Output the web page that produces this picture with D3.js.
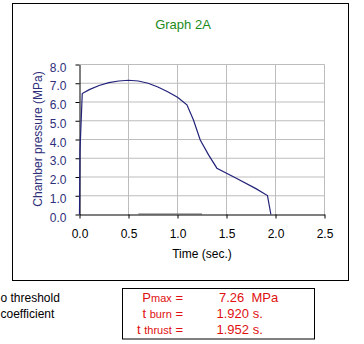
<!DOCTYPE html>
<html><head><meta charset="utf-8">
<script src="https://cdn.jsdelivr.net/npm/d3@7"></script>
<style>
html,body{margin:0;padding:0;background:#fff;}
svg{display:block;font-family:"Liberation Sans",Arial,sans-serif;}
</style></head>
<body>
<svg id="c" width="364" height="344"></svg>
<script>
// ---- data ----
const title = "Graph 2A";
const xLabel = "Time (sec.)";
const yLabel = "Chamber pressure (MPa)";
const xTicks = [0, 0.5, 1.0, 1.5, 2.0, 2.5];
const yTicks = [0, 1, 2, 3, 4, 5, 6, 7, 8];
const time = [0, 0.005, 0.028, 0.1, 0.2, 0.3, 0.4, 0.5, 0.6, 0.7, 0.8, 0.9, 1.0, 1.096, 1.163, 1.232, 1.317, 1.402, 1.6, 1.8, 1.918, 1.953];
const pressure = [0, 3.4, 6.45, 6.66, 6.88, 7.03, 7.12, 7.16, 7.12, 7.0, 6.8, 6.55, 6.25, 5.85, 5.04, 3.97, 3.18, 2.47, 1.93, 1.38, 1.01, 0];
const tailTime = [0.6, 1.25];
const tailPressure = [0.02, 0.02];
const summaryLabels = [["P", "max", " ="], ["t ", "burn", " ="], ["t ", "thrust", " ="]];
const summaryValues = ["7.26  MPa", "1.920 s.", "1.952 s."];
const leftNotes = ["o threshold", "coefficient"];

const svg = d3.select("#c");
// outer frame
svg.append("rect").attr("x", 12.5).attr("y", 3.5).attr("width", 336).attr("height", 277)
  .attr("fill", "#fff").attr("stroke", "#000").attr("stroke-width", 1);

const x = d3.scaleLinear().domain([0, 2.5]).range([79.5, 324.5]);
const y = d3.scaleLinear().domain([0, 8]).range([214.5, 64.5]);

// gridlines
const g = svg.append("g");
g.selectAll(".hg").data(yTicks.slice(1)).join("line")
  .attr("x1", x(0)).attr("x2", x(2.5)).attr("y1", d => y(d)).attr("y2", d => y(d))
  .attr("stroke", "#bdbdbd").attr("stroke-width", 1);
g.selectAll(".vg").data(xTicks.slice(1)).join("line")
  .attr("y1", y(0)).attr("y2", y(8)).attr("x1", d => x(d)).attr("x2", d => x(d))
  .attr("stroke", "#bdbdbd").attr("stroke-width", 1);

// axes
const xa = svg.append("g").attr("transform", `translate(0,${y(0)})`)
  .call(d3.axisBottom(x).tickValues(xTicks).tickFormat(d3.format(".1f")).tickSize(4).tickSizeOuter(0));
const ya = svg.append("g").attr("transform", `translate(${x(0)},0)`)
  .call(d3.axisLeft(y).tickValues(yTicks).tickFormat(d3.format(".1f")).tickSize(4).tickSizeOuter(0));
[xa, ya].forEach(a => {
  a.select(".domain").attr("stroke", "#000");
  a.selectAll(".tick line").attr("stroke", "#000");
  a.selectAll("text").attr("font-family", "Liberation Sans, Arial, sans-serif").attr("font-size", 12);
});
xa.selectAll("text").attr("fill", "#000").attr("dy", null).attr("y", 0).attr("transform", "translate(0,23.5)");
ya.selectAll("text").attr("fill", "#2e2e7a").attr("dy", null).attr("x", -13).attr("y", 6.5);

// series
const line = d3.line().x(d => x(d[0])).y(d => y(d[1]));
svg.append("path").datum(tailTime.map((t, i) => [t, tailPressure[i]]))
  .attr("d", line).attr("fill", "none").attr("stroke", "#666").attr("stroke-width", 1.5);
svg.append("path").datum(time.map((t, i) => [t, pressure[i]]))
  .attr("d", line).attr("fill", "none").attr("stroke", "#22227a").attr("stroke-width", 1.2);

// titles
svg.append("text").attr("x", 183).attr("y", 29).attr("text-anchor", "middle")
  .attr("font-size", 13).attr("fill", "#1b8a1b").text(title);
svg.append("text").attr("x", 202).attr("y", 258).attr("text-anchor", "middle")
  .attr("font-size", 12).attr("fill", "#000").text(xLabel);
svg.append("text").attr("transform", "translate(42,139) rotate(-90)").attr("text-anchor", "middle")
  .attr("font-size", 12).attr("fill", "#2e2e7a").text(yLabel);

// summary box
svg.append("rect").attr("x", 122.5).attr("y", 288.5).attr("width", 192).attr("height", 50.5)
  .attr("fill", "#fff").attr("stroke", "#000").attr("stroke-width", 1);
const rowY = [302, 318, 334];
summaryLabels.forEach((lab, i) => {
  const t = svg.append("text").attr("x", 183).attr("y", rowY[i]).attr("text-anchor", "end")
    .attr("font-size", 13).attr("fill", "#e01010").style("white-space", "pre");
  t.append("tspan").text(lab[0]);
  t.append("tspan").attr("font-size", 11).text(lab[1]);
  t.append("tspan").text(lab[2]);
});
summaryValues.forEach((v, i) => {
  svg.append("text").attr("x", i === 0 ? 219 : 216.5).attr("y", rowY[i])
    .attr("font-size", 13).attr("fill", "#e01010")
    .style("white-space", "pre").text(v);
});
leftNotes.forEach((n, i) => {
  svg.append("text").attr("x", 0.5).attr("y", 302 + i * 16)
    .attr("font-size", 12).attr("fill", "#000").text(n);
});
</script>
</body></html>
